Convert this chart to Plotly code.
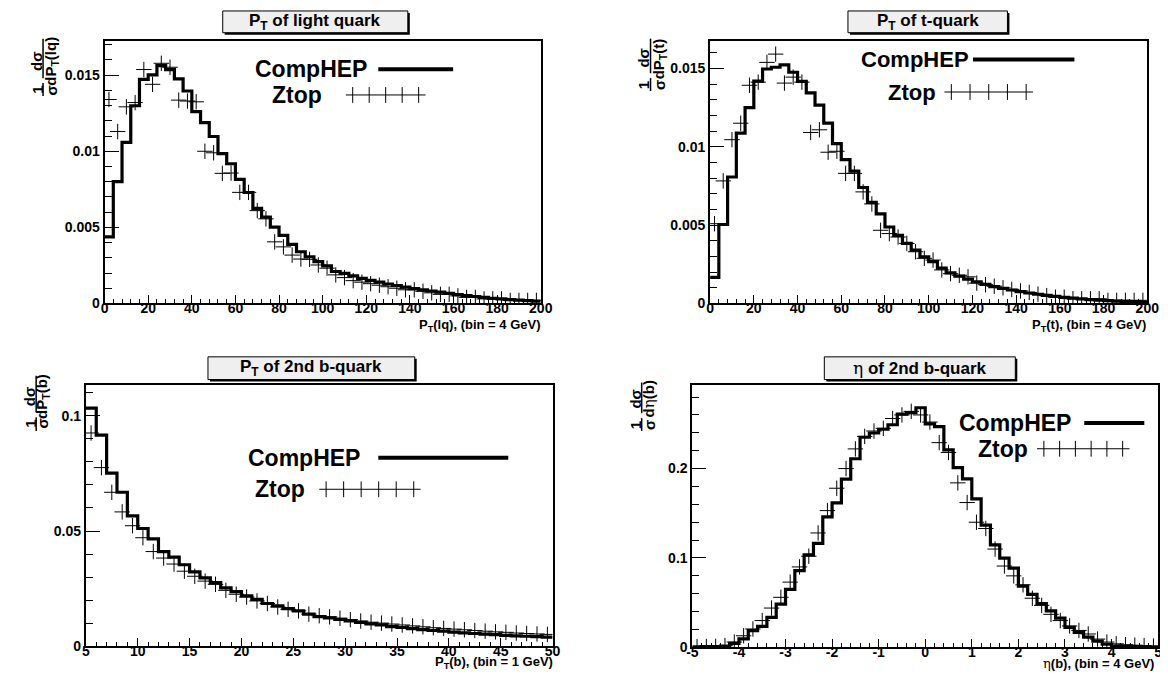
import plotly.graph_objects as go

W, H = 1168, 681

# ---------------- data ----------------
# Panel 1: P_T of light quark, bins of 4 GeV from 0 to 200
lq_bin_start, lq_bin_width = 0.0, 4.0
lq_comphep = [0.00437, 0.0080, 0.01058, 0.01299, 0.01472, 0.01502, 0.01563, 0.01537, 0.01476, 0.01396,
              0.0126, 0.01188, 0.01097, 0.00985, 0.00918, 0.00816, 0.00729, 0.00625, 0.00567, 0.00502,
              0.00448, 0.00388, 0.0034, 0.00307, 0.00275, 0.00247, 0.0021, 0.00198, 0.00182, 0.00165,
              0.00152, 0.0014, 0.00128, 0.00118, 0.00108, 0.00098, 0.0009, 0.00082, 0.00074, 0.00066,
              0.00058, 0.00052, 0.00046, 0.0004, 0.00034, 0.0003, 0.00026, 0.00022, 0.00019, 0.00016]
lq_ztop = [0.0134, 0.0113, 0.01292, 0.0132, 0.01537, 0.0144, 0.01578, 0.01552, 0.01336, 0.0133,
           0.01325, 0.0100, 0.0099, 0.00855, 0.00857, 0.0073, 0.0073, 0.0061, 0.00556, 0.00405,
           0.00372, 0.00318, 0.00292, 0.0029, 0.00253, 0.00232, 0.00188, 0.0017, 0.0015, 0.0014,
           0.0013, 0.0012, 0.0011, 0.0010, 0.0009, 0.0009, 0.0008, 0.0007, 0.0006, 0.0006,
           0.0005, 0.0004, 0.0004, 0.0003, 0.0003, 0.0003, 0.0002, 0.0002, 0.0002, 0.0002]

# Panel 2: P_T of t-quark, bins of 4 GeV from 0 to 200
tq_bin_start, tq_bin_width = 0.0, 4.0
tq_comphep = [0.00166, 0.00504, 0.00807, 0.01087, 0.0125, 0.01419, 0.01496, 0.01507, 0.01522, 0.01475,
              0.01417, 0.01343, 0.01265, 0.0115, 0.0102, 0.00918, 0.00845, 0.0074, 0.00645, 0.00572,
              0.00488, 0.00435, 0.00383, 0.0034, 0.00298, 0.00267, 0.00225, 0.00195, 0.00175, 0.00155,
              0.00138, 0.00122, 0.00108, 0.00096, 0.00086, 0.00076, 0.00067, 0.00059, 0.00052, 0.00045,
              0.00039, 0.00034, 0.00029, 0.00025, 0.00021, 0.00018, 0.00015, 0.00013, 0.00011, 0.00009]
tq_ztop = [0.00509, 0.00782, 0.01045, 0.0115, 0.01392, 0.01412, 0.01538, 0.01591, 0.01406, 0.01444,
           0.01412, 0.01091, 0.01108, 0.00965, 0.00971, 0.0083, 0.0083, 0.00712, 0.00635, 0.00467,
           0.00446, 0.00424, 0.00383, 0.0033, 0.00288, 0.00277, 0.00214, 0.0019, 0.0018, 0.0017,
           0.0013, 0.0012, 0.0011, 0.0010, 0.0009, 0.0008, 0.0007, 0.0006, 0.0005, 0.0004,
           0.0004, 0.0003, 0.0003, 0.0003, 0.0003, 0.0002, 0.0002, 0.0002, 0.0002, 0.0002]

# Panel 3: P_T of 2nd b-quark, bins of 1 GeV from 5 to 50
pb_bin_start, pb_bin_width = 5.0, 1.0
pb_comphep = [0.1033, 0.0916, 0.0751, 0.0668, 0.0566, 0.0511, 0.0466, 0.0411, 0.0387, 0.0354,
              0.0323, 0.0297, 0.0276, 0.0254, 0.0237, 0.0219, 0.0204, 0.0186, 0.0176, 0.0164,
              0.0154, 0.0140, 0.0129, 0.0124, 0.0117, 0.0111, 0.0104, 0.0098, 0.0093, 0.0086,
              0.0082, 0.0077, 0.0073, 0.0069, 0.0066, 0.0062, 0.0059, 0.0056, 0.0053, 0.0051,
              0.0048, 0.0046, 0.0044, 0.0042, 0.0040]
pb_ztop = [0.0925, 0.0775, 0.0668, 0.0583, 0.0523, 0.0471, 0.0411, 0.0383, 0.0357, 0.0326,
           0.0304, 0.0283, 0.0269, 0.0243, 0.0226, 0.0214, 0.0197, 0.0186, 0.0171, 0.0161,
           0.0154, 0.0140, 0.0133, 0.0128, 0.0122, 0.0116, 0.0110, 0.0105, 0.0101, 0.0097,
           0.0093, 0.0089, 0.0085, 0.0081, 0.0078, 0.0075, 0.0072, 0.0069, 0.0066, 0.0063,
           0.0061, 0.0058, 0.0056, 0.0054, 0.0052]

# Panel 4: eta of 2nd b-quark, bins of 0.2 from -5 to 5
eta_bin_start, eta_bin_width = -5.0, 0.2
eta_comphep = [0.0005, 0.0008, 0.0010, 0.0015, 0.0045, 0.0096, 0.0188, 0.0236, 0.0335, 0.0483,
               0.0649, 0.0859, 0.1035, 0.1164, 0.1459, 0.1617, 0.1882, 0.2110, 0.2350, 0.2398,
               0.2440, 0.2490, 0.2610, 0.2626, 0.2680, 0.2500, 0.2470, 0.2210, 0.2011, 0.1885,
               0.1661, 0.1367, 0.1146, 0.0998, 0.0887, 0.0685, 0.0593, 0.0490, 0.0409, 0.0328,
               0.0225, 0.0169, 0.0114, 0.0070, 0.0035, 0.0015, 0.0010, 0.0008, 0.0005, 0.0003]
eta_ztop = [0.0008, 0.0010, 0.0012, 0.0020, 0.0060, 0.0130, 0.0206, 0.0300, 0.0440, 0.0560,
            0.0730, 0.0900, 0.1020, 0.1280, 0.1530, 0.1780, 0.2000, 0.2220, 0.2360, 0.2420,
            0.2450, 0.2560, 0.2600, 0.2640, 0.2600, 0.2520, 0.2290, 0.2180, 0.1840, 0.1620,
            0.1400, 0.1330, 0.1100, 0.0910, 0.0800, 0.0700, 0.0550, 0.0470, 0.0370, 0.0300,
            0.0240, 0.0190, 0.0150, 0.0093, 0.0060, 0.0040, 0.0030, 0.0025, 0.0020, 0.0015]

# ---------------- helpers ----------------
FONT = "Liberation Sans"


def px(x):
    return x / W


def py(y):
    return 1 - y / H


def edges(start, width, n):
    return [start + width * i for i in range(n + 1)]


def centers(start, width, n):
    return [start + width * (i + 0.5) for i in range(n)]


fig = go.Figure()

panels = [
    ("", lq_bin_start, lq_bin_width, lq_comphep, lq_ztop, (92, 535), (33, 299), (0, 200), (0, 0.01727), 20, 4, 0.005, 0.001),
    ("2", tq_bin_start, tq_bin_width, tq_comphep, tq_ztop, (707, 1151), (33, 299), (0, 200), (0, 0.01677), 20, 4, 0.005, 0.001),
    ("3", pb_bin_start, pb_bin_width, pb_comphep, pb_ztop, (73, 547), (381, 646), (5, 50), (0, 0.1135), 5, 1, 0.05, 0.01),
    ("4", eta_bin_start, eta_bin_width, eta_comphep, eta_ztop, (689, 1162), (381, 647), (-5, 5), (0, 0.294), 1, 0.2, 0.1, 0.02),
]

tickfont = dict(family=FONT, size=14, color="black", weight="bold")

for suf, start, width, comp, ztop, xd, yd, xr, yr, xdt, xmn, ydt, ymn in panels:
    n = len(comp)
    e = edges(start, width, n)
    fig.add_trace(go.Scatter(
        x=e, y=list(comp) + [comp[-1]], mode="lines", line=dict(color="black", width=3.2, shape="hv"),
        xaxis="x" + suf, yaxis="y" + suf, hoverinfo="skip"))
    fig.add_trace(go.Scatter(
        x=centers(start, width, n), y=ztop, mode="markers",
        marker=dict(symbol="cross-thin", size=11, color="black", line=dict(color="black", width=1)),
        xaxis="x" + suf, yaxis="y" + suf, hoverinfo="skip"))

    xa = dict(domain=[px(xd[0]), px(xd[1])], range=list(xr), anchor="y" + suf,
              showline=True, mirror=True, linecolor="black", linewidth=2, showgrid=False, zeroline=False,
              ticks="inside", ticklen=8, tickwidth=1, tickcolor="black", tickfont=tickfont,
              ticklabelstandoff=-9,
              minor=dict(ticks="inside", ticklen=4, tickwidth=1, tickcolor="black", dtick=xmn, tick0=xr[0]))
    if suf == "4":
        vals = list(range(-5, 6))
        xa.update(tickmode="array", tickvals=vals, ticktext=[str(v) for v in vals])
    else:
        xa.update(tickmode="linear", tick0=xr[0], dtick=xdt)
    ya = dict(domain=[py(yd[1]), py(yd[0])], range=list(yr), anchor="x" + suf,
              showline=True, mirror=True, linecolor="black", linewidth=2, showgrid=False, zeroline=False,
              ticks="inside", ticklen=14, tickwidth=1, tickcolor="black", tickfont=tickfont,
              tickmode="linear", tick0=0, dtick=ydt,
              minor=dict(ticks="inside", ticklen=7, tickwidth=1, tickcolor="black", dtick=ymn, tick0=0))
    fig.update_layout(**{"xaxis" + suf: xa, "yaxis" + suf: ya})

shapes = []
annotations = []


def title_box(x0, x1, y0, y1, text):
    shapes.append(dict(type="rect", xref="paper", yref="paper", x0=px(x0 + 2), x1=px(x1 + 2),
                       y0=py(y1 + 2), y1=py(y0 + 2), fillcolor="black", line=dict(width=0)))
    shapes.append(dict(type="rect", xref="paper", yref="paper", x0=px(x0), x1=px(x1),
                       y0=py(y1), y1=py(y0), fillcolor="#efefef", line=dict(color="black", width=1)))
    annotations.append(dict(xref="paper", yref="paper", x=px((x0 + x1) / 2), y=py((y0 + y1) / 2),
                            text=text, showarrow=False, xanchor="center", yanchor="middle",
                            font=dict(family=FONT, size=17, color="black")))


title_box(212, 400, 3, 25, "<b>P<sub>T</sub> of light quark</b>")
title_box(847, 1009, 3, 25, "<b>P<sub>T</sub> of t-quark</b>")
title_box(197, 407, 353, 376, "<b>P<sub>T</sub> of 2nd b-quark</b>")
title_box(823, 1017, 353, 376,
          "<span style='font-family:DejaVu Serif'>η</span><b> of 2nd b-quark</b>")


def ylabel(xnum, xline, xden, y_one, y_frac, ytop, ybot, den_text):
    f = dict(family=FONT, size=15, color="black")
    for (xx, yy, t) in [(xnum, y_one, "<b>1</b>"), (xden, y_one, "<b>σ</b>"),
                        (xnum, y_frac, "<b>dσ</b>"), (xden, y_frac, den_text)]:
        annotations.append(dict(xref="paper", yref="paper", x=px(xx), y=py(yy), text=t,
                                textangle=-90, showarrow=False, xanchor="center", yanchor="middle", font=f))
    shapes.append(dict(type="line", xref="paper", yref="paper", x0=px(xline), x1=px(xline),
                       y0=py(ybot), y1=py(y_one - 7), line=dict(color="black", width=1.5)))
    shapes.append(dict(type="line", xref="paper", yref="paper", x0=px(xline), x1=px(xline),
                       y0=py(y_one - 12), y1=py(ytop), line=dict(color="black", width=1.5)))


ylabel(23, 29.5, 38, 83, 54, 31, 89, "<b>dP<sub>T</sub>(lq)</b>")
ylabel(639, 646.5, 655, 78, 51, 31, 84, "<b>dP<sub>T</sub>(t)</b>")
ylabel(16, 22.5, 29, 421, 393, 372, 428, "<b>dP<sub>T</sub>(b)</b>")
ylabel(631, 637.5, 645, 422, 396, 379, 428,
       "<b>d</b><span style='font-family:DejaVu Serif'>η</span><b>(b)</b>")


def xtitle(xright, y, text):
    annotations.append(dict(xref="paper", yref="paper", x=px(xright), y=py(y), text=text,
                            showarrow=False, xanchor="right", yanchor="middle",
                            font=dict(family=FONT, size=13, color="black")))


xtitle(537, 321, "<b>P<sub>T</sub>(lq), (bin = 4 GeV)</b>")
xtitle(1152, 321, "<b>P<sub>T</sub>(t), (bin = 4 GeV)</b>")
xtitle(549, 662, "<b>P<sub>T</sub>(b), (bin = 1 GeV)</b>")
xtitle(1160, 663, "<span style='font-family:DejaVu Serif'>η</span><b>(b), (bin = 4 GeV)</b>")


def legend(cx, cy, lx0, lx1, zx, zy, kx0, kx1, nk, fs=23):
    f = dict(family=FONT, size=fs, color="black")
    annotations.append(dict(xref="paper", yref="paper", x=px(cx), y=py(cy), text="<b>CompHEP</b>",
                            showarrow=False, xanchor="left", yanchor="middle", font=f))
    annotations.append(dict(xref="paper", yref="paper", x=px(zx), y=py(zy), text="<b>Ztop</b>",
                            showarrow=False, xanchor="left", yanchor="middle", font=f))
    shapes.append(dict(type="line", xref="paper", yref="paper", x0=px(lx0), x1=px(lx1),
                       y0=py(cy), y1=py(cy), line=dict(color="black", width=4)))
    shapes.append(dict(type="line", xref="paper", yref="paper", x0=px(kx0), x1=px(kx1),
                       y0=py(zy), y1=py(zy), line=dict(color="black", width=1)))
    step = (kx1 - kx0 - 14) / (nk - 1)
    for i in range(nk):
        xx = kx0 + 7 + step * i
        shapes.append(dict(type="line", xref="paper", yref="paper", x0=px(xx), x1=px(xx),
                           y0=py(zy - 8), y1=py(zy + 8), line=dict(color="black", width=1)))


legend(243, 62, 370, 446, 260, 88, 337, 418, 5)
legend(858, 52, 974, 1077, 886, 85, 945, 1035, 5, fs=22)
legend(236, 455, 370, 502, 243, 487, 310, 413, 6)
legend(958, 420, 1087, 1148, 977, 446, 1039, 1133, 6)

fig.update_layout(width=W, height=H, margin=dict(l=0, r=0, t=0, b=0), autosize=False,
                  paper_bgcolor="white", plot_bgcolor="white", showlegend=False,
                  shapes=shapes, annotations=annotations)

fig.write_html("out.html")
